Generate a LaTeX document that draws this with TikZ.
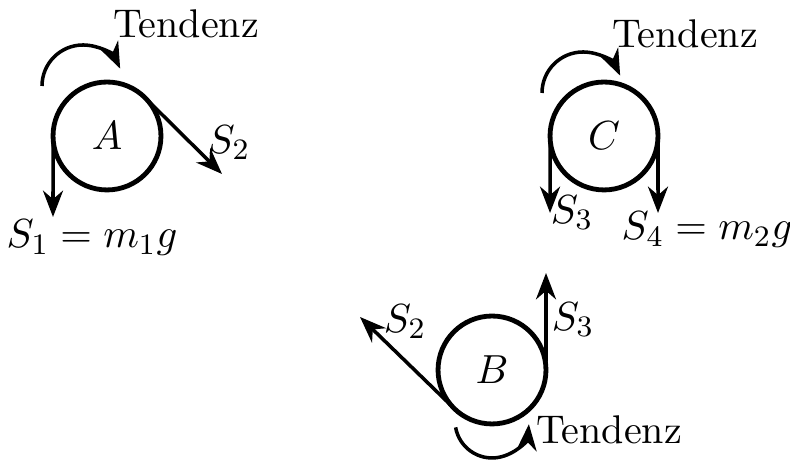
\documentclass[tikz,border=0pt]{standalone}
\usepackage{amsmath,amssymb}
\usepackage{tikz}
\usetikzlibrary{arrows.meta}

\begin{document}
\begin{tikzpicture}[>={Stealth[length=2.5mm,width=1.9mm]},x=0.2696pt,y=0.2696pt,
  font=\fontsize{10.8}{13}\selectfont,
  rolle/.style={draw,circle,line width=1.3pt,minimum size=29.1pt,inner sep=0pt,outer sep=0pt},
  zug/.style={->,line width=0.95pt}]
\useasboundingbox (0,0) rectangle (790,461);
% Rolle A
\node[rolle] (A) at (107,325) {$A$};
\coordinate (s1A) at (53,244);
\coordinate (s2A) at (222,287);
\draw[zug] (A.west) -- (s1A);
\draw[zug] (A.45) -- (s2A);
\node (lS1) at (92,223) {$S_1=m_1g$};
\node (lS2A) at (229,318) {$S_2$};
\coordinate (tA) at (42,375);
\draw[zug] (tA) arc[start angle=180,end angle=25,radius=41];
\node (tendA) at (186,437) {Tendenz};
% Rolle C
\node[rolle] (C) at (604,325) {$C$};
\coordinate (s3C) at (550,248);
\coordinate (s4C) at (658,248);
\draw[zug] (C.west) -- (s3C);
\draw[zug] (C.east) -- (s4C);
\node (lS3C) at (572,248) {$S_3$};
\node (lS4) at (707,231) {$S_4=m_2g$};
\coordinate (tC) at (542,368);
\draw[zug] (tC) arc[start angle=180,end angle=25,radius=41];
\node (tendC) at (685,427) {Tendenz};
% Rolle B
\node[rolle] (B) at (492,91) {$B$};
\coordinate (s3B) at (546,188);
\coordinate (s2B) at (360,144);
\draw[zug] (B.east) -- (s3B);
\draw[zug] (B.225) -- (s2B);
\node (lS2B) at (405,139) {$S_2$};
\node (lS3B) at (573,141) {$S_3$};
\coordinate (tB) at (455.6,33.6);
\draw[zug] (tB) arc[start angle=190,end angle=355,radius=37];
\node (tendB) at (609,31) {Tendenz};
\end{tikzpicture}
\end{document}
